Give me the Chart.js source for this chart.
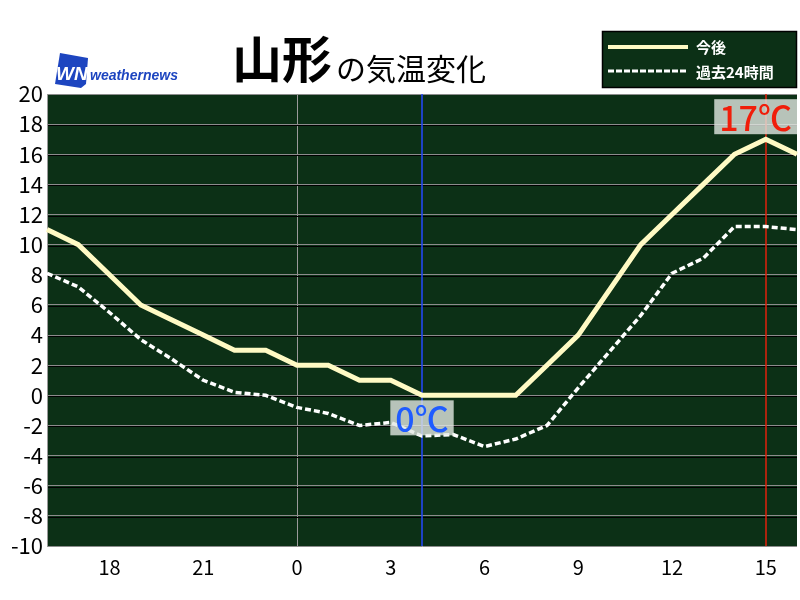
<!DOCTYPE html>
<html>
<head>
<meta charset="utf-8">
<script src="https://cdn.jsdelivr.net/npm/chart.js@4/dist/chart.umd.min.js"></script>
<style>
  body { margin: 0; background: #fff; }
</style>
</head>
<body>
<canvas id="tempChart" width="800" height="600"></canvas>
<script>
// hourly, from 16:00 yesterday to 16:00 today
const hours = ['16','17','18','19','20','21','22','23','0','1','2','3','4','5','6','7','8','9','10','11','12','13','14','15','16'];
const forecastTemps = [11, 10, 8, 6, 5, 4, 3, 3, 2, 2, 1, 1, 0, 0, 0, 0, 2, 4, 7, 10, 12, 14, 16, 17, 16];
const pastTemps = [8.1, 7.2, 5.5, 3.7, 2.4, 1.0, 0.2, 0.0, -0.8, -1.2, -2.0, -1.8, -2.7, -2.6, -3.4, -2.9, -2.0, 0.5, 2.9, 5.3, 8.1, 9.1, 11.2, 11.2, 11.0];
const xTickLabels = ['18','21','0','3','6','9','12','15'];
const nowIndex = 12;   // 4時
const maxIndex = 23;   // 15時

const FONT = '"Noto Sans CJK JP", "Noto Sans", sans-serif';
const plotGreen = '#0c3016';

const plotBg = {
    id: 'plotBg',
    beforeDraw(chart) {
        const {ctx, chartArea: a} = chart;
        ctx.save();
        ctx.fillStyle = plotGreen;
        ctx.fillRect(a.left, a.top, a.right - a.left, a.bottom - a.top);
        ctx.restore();
    },
    beforeDatasetsDraw(chart) {
        const {ctx, chartArea: a, scales} = chart;
        ctx.save();
        // dark shadow under each grid line
        ctx.strokeStyle = '#000';
        ctx.lineWidth = 1;
        scales.y.ticks.forEach(t => {
            const y = Math.round(scales.y.getPixelForValue(t.value)) + 1.5;
            if (y > a.top + 2 && y < a.bottom) {
                ctx.beginPath();
                ctx.moveTo(a.left + 1, y);
                ctx.lineTo(a.right, y);
                ctx.stroke();
            }
        });
        // now / max lines
        ctx.lineWidth = 1.5;
        const nx = Math.round(scales.x.getPixelForValue(nowIndex));
        ctx.strokeStyle = '#2448ff';
        ctx.beginPath(); ctx.moveTo(nx, a.top); ctx.lineTo(nx, a.bottom); ctx.stroke();
        const mx = Math.round(scales.x.getPixelForValue(maxIndex));
        ctx.strokeStyle = '#e0200c';
        ctx.beginPath(); ctx.moveTo(mx, a.top); ctx.lineTo(mx, a.bottom); ctx.stroke();
        ctx.restore();
    }
};

function tempBox(chart, idx, color, below) {
    const {ctx, chartArea: a, scales} = chart;
    const v = forecastTemps[idx];
    const px = scales.x.getPixelForValue(idx);
    const py = scales.y.getPixelForValue(v);
    const txt = v + '℃';
    ctx.save();
    ctx.font = '500 34px ' + FONT;
    const w = ctx.measureText(txt).width + 10;
    const h = 35;
    let left = px - w / 2;
    if (left + w > a.right) left = a.right - w;
    const top = below ? py + 5 : py - 5 - h;
    ctx.fillStyle = 'rgba(226,232,226,0.8)';
    ctx.fillRect(left, top, w, h);
    ctx.fillStyle = color;
    ctx.textAlign = 'center';
    ctx.textBaseline = 'middle';
    ctx.fillText(txt, left + w / 2, top + h / 2 + 1);
    ctx.restore();
}

const annotations = {
    id: 'annotations',
    afterDatasetsDraw(chart) {
        tempBox(chart, nowIndex, '#1f5cff', true);
        tempBox(chart, maxIndex, '#f01e0a', false);
    }
};

const header = {
    id: 'header',
    afterDraw(chart) {
        const ctx = chart.ctx;
        ctx.save();
        // title
        ctx.fillStyle = '#000';
        ctx.textBaseline = 'alphabetic';
        ctx.font = 'bold 50px ' + FONT;
        ctx.fillText('山形', 232, 78);
        ctx.font = '30px ' + FONT;
        ctx.fillText('の気温変化', 336, 80);

        // logo
        ctx.fillStyle = '#1d45c0';
        ctx.beginPath();
        ctx.moveTo(60, 53); ctx.lineTo(88, 58); ctx.lineTo(86, 84);
        ctx.lineTo(81, 88); ctx.lineTo(55, 84);
        ctx.closePath(); ctx.fill();
        ctx.fillStyle = '#fff';
        ctx.font = 'italic bold 19px "Liberation Sans", sans-serif';
        ctx.fillText('WN', 56, 80);
        ctx.fillStyle = '#1d45c0';
        ctx.font = 'italic bold 14px "Liberation Sans", sans-serif';
        ctx.fillText('weathernews', 90, 80);

        // legend box
        ctx.fillStyle = plotGreen;
        ctx.fillRect(602, 31, 195, 57);
        ctx.strokeStyle = '#000';
        ctx.lineWidth = 1.5;
        ctx.strokeRect(602.5, 31.5, 194, 56);
        ctx.lineWidth = 4;
        ctx.strokeStyle = '#fffac4';
        ctx.beginPath(); ctx.moveTo(608, 47); ctx.lineTo(688, 47); ctx.stroke();
        ctx.strokeStyle = '#fff';
        ctx.lineWidth = 3;
        ctx.setLineDash([6, 2]);
        ctx.beginPath(); ctx.moveTo(608, 71); ctx.lineTo(688, 71); ctx.stroke();
        ctx.setLineDash([]);
        ctx.fillStyle = '#fff';
        ctx.font = 'bold 15px ' + FONT;
        ctx.textBaseline = 'middle';
        ctx.fillText('今後', 696, 47);
        ctx.fillText('過去24時間', 696, 72);
        ctx.restore();
    }
};

const ctx = document.getElementById('tempChart').getContext('2d');
const tempChart = new Chart(ctx, {
    type: 'line',
    data: {
        labels: hours,
        datasets: [{
            label: '過去24時間',
            data: pastTemps,
            borderColor: '#ffffff',
            borderWidth: 3.5,
            borderDash: [6, 3],
            pointRadius: 0,
            tension: 0
        }, {
            label: '今後',
            data: forecastTemps,
            borderColor: '#fffac4',
            borderWidth: 5,
            pointRadius: 0,
            tension: 0
        }]
    },
    options: {
        responsive: false,
        animation: false,
        layout: { padding: { top: 94, right: 3, left: 0, bottom: 0 } },
        plugins: {
            legend: { display: false },
            tooltip: { enabled: false }
        },
        scales: {
            x: {
                offset: false,
                grid: {
                    color: c => c.index === 8 ? '#9a9a9a' : 'rgba(0,0,0,0)',
                    drawTicks: false
                },
                border: { display: false },
                ticks: {
                    autoSkip: false,
                    maxRotation: 0,
                    padding: 9,
                    color: '#000',
                    font: { size: 20, family: FONT },
                    callback: (v, i) => xTickLabels.includes(hours[i]) ? hours[i] : ''
                },
                afterFit: s => { s.height = 54; s.paddingLeft = 0; s.paddingRight = 0; }
            },
            y: {
                min: -10,
                max: 20,
                ticks: {
                    stepSize: 2,
                    padding: 4,
                    color: '#000',
                    font: { size: 22, family: FONT }
                },
                grid: { color: '#8c8c8c', drawTicks: false },
                border: { color: '#9a9a9a' },
                afterFit: s => { s.width = 47; }
            }
        }
    },
    plugins: [plotBg, annotations, header]
});
</script>
</body>
</html>
